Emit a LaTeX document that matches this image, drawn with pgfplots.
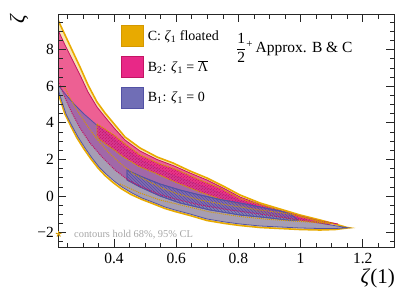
\documentclass[border=0pt]{standalone}
\usepackage{pgfplots}
\pgfplotsset{compat=1.18}
\usepackage{fontspec}
\setmainfont{Liberation Serif}
\usetikzlibrary{patterns}
\definecolor{goldc}{RGB}{232,170,0}
\definecolor{goldline}{RGB}{212,152,0}
\definecolor{pinkc}{RGB}{232,40,135}
\definecolor{pinkline}{RGB}{196,20,100}
\definecolor{purplec}{RGB}{112,110,182}
\definecolor{purpleline}{RGB}{82,82,165}
\begin{document}
\begin{tikzpicture}[x=1pt,y=1pt]
\path[use as bounding box] (-58,-51) rectangle (357,247);
\begin{axis}[
  scale only axis, width=336pt, height=233pt,
  at={(0,0)}, anchor=south west,
  xmin=0.2199, xmax=1.3003, ymin=-2.787, ymax=9.945,
  axis on top,
  xtick={0.4,0.6,0.8,1,1.2}, xticklabels={0.4,0.6,0.8,1,1.2},
  minor xtick={0.25,0.3,0.35,0.45,0.5,0.55,0.65,0.7,0.75,0.85,0.9,0.95,1.05,1.1,1.15,1.25},
  ytick={-2,0,2,4,6,8}, yticklabels={−2,0,2,4,6,8},
  minor ytick={-2.5,-1.5,-1,-0.5,0.5,1,1.5,2.5,3,3.5,4.5,5,5.5,6.5,7,7.5,8.5,9,9.5},
  tick align=inside, major tick length=8pt, minor tick length=4.5pt,
  tick style={black!85, line width=0.7pt},
  axis line style={black!85, line width=0.9pt},
  ticklabel style={font=\fontsize{15.5}{18}\selectfont},
  yticklabel style={inner sep=0pt, xshift=-4pt},
  xticklabel style={inner sep=0pt, yshift=-6pt},
  legend image code/.code={\draw[#1] (0pt,-10.5pt) rectangle (22pt,10.5pt);},
  legend style={at={(axis description cs:0.1875,0.953)}, anchor=north west,
    draw=none, fill=none, inner sep=0pt, outer sep=0pt, row sep=9pt, column sep=4pt,
    font=\fontsize{14}{16}\selectfont, nodes={inner sep=0pt}},
  legend cell align=left,
]
\addlegendimage{fill=goldc, draw=goldline, line width=0.8pt}
\addlegendentry{C: \textit{ζ}\textsubscript{1} floated}
\addlegendimage{fill=pinkc, draw=pinkline, line width=0.8pt}
\addlegendentry{B\textsubscript{2}: \textit{ζ}\textsubscript{1} = $\overline{\mbox{Λ}}$}
\addlegendimage{fill=purplec, draw=purpleline, line width=0.8pt}
\addlegendentry{B\textsubscript{1}: \textit{ζ}\textsubscript{1} = 0}

% C 95% CL
\addplot[fill=goldc, fill opacity=0.3, draw=goldc, line width=1.6pt, mark=none] coordinates {
(0.210,9.98) (0.220,9.617) (0.2424,8.798) (0.265,7.978) (0.2907,7.049) (0.3164,6.066) (0.3453,5.137) (0.3711,4.536) (0.4032,3.880) (0.4354,3.224) (0.4836,2.623) (0.5383,2.131) (0.5897,1.803) (0.6444,1.366) (0.6990,0.984) (0.7569,0.492) (0.8051,0.055) (0.8695,-0.383) (0.9338,-0.710) (0.9981,-1.038) (1.0624,-1.311) (1.1106,-1.530) (1.1492,-1.721) (1.1556,-1.738)
(1.1492,-1.749) (1.1106,-1.831) (1.0624,-1.858) (0.9981,-1.831) (0.9338,-1.776) (0.8695,-1.721) (0.8051,-1.612) (0.7569,-1.503) (0.6990,-1.339) (0.6444,-1.066) (0.5961,-0.847) (0.5640,-0.683) (0.5318,-0.464) (0.4900,-0.191) (0.4547,0.082) (0.4225,0.410) (0.3968,0.738) (0.3711,1.120) (0.3486,1.530) (0.3260,2.022) (0.3035,2.568) (0.2810,3.169) (0.2617,3.798) (0.2424,4.481) (0.2296,5.137) (0.2167,5.847) (0.210,6.339)
} -- cycle;

% B2 95% CL
\addplot[fill=pinkc, fill opacity=0.7, draw=none, mark=none] coordinates {
(0.207,9.508) (0.220,9.071) (0.2424,8.251) (0.265,7.486) (0.2907,6.612) (0.3164,5.683) (0.3453,4.863) (0.3711,4.317) (0.4032,3.661) (0.4354,3.060) (0.4836,2.459) (0.5383,1.995) (0.5897,1.667) (0.6444,1.257) (0.6990,0.874) (0.7569,0.383) (0.8051,-0.055) (0.8695,-0.464) (0.9338,-0.792) (0.9981,-1.093) (1.0624,-1.366) (1.0945,-1.448) (1.1203,-1.530)
(1.0945,-1.557) (1.0463,-1.448) (0.9659,-1.230) (0.8695,-0.984) (0.7730,-0.765) (0.6765,-0.492) (0.5961,-0.164) (0.5415,0.109) (0.4836,0.546) (0.4450,0.874) (0.4032,1.421) (0.3614,2.131) (0.3228,2.896) (0.2907,3.716) (0.2650,4.536) (0.2457,5.246) (0.2296,5.902) (0.2135,6.557)
} -- cycle;
\addplot[draw=pinkline, line width=0.8pt, mark=none] coordinates {
(0.207,9.508) (0.220,9.071) (0.2424,8.251) (0.265,7.486) (0.2907,6.612) (0.3164,5.683) (0.3453,4.863) (0.3711,4.317) (0.4032,3.661) (0.4354,3.060) (0.4836,2.459) (0.5383,1.995) (0.5897,1.667) (0.6444,1.257) (0.6990,0.874) (0.7569,0.383) (0.8051,-0.055) (0.8695,-0.464) (0.9338,-0.792) (0.9981,-1.093) (1.0624,-1.366) (1.0945,-1.448) (1.1203,-1.530)
};

% B1 95% CL
\addplot[fill=purplec, fill opacity=0.6, draw=purpleline, line width=0.8pt, mark=none] coordinates {
(0.2136,6.2) (0.220,6.066) (0.2457,5.519) (0.2746,4.973) (0.3035,4.481) (0.3293,4.098) (0.3550,3.716) (0.3871,3.224) (0.4354,2.568) (0.4836,1.967) (0.5479,1.421) (0.6122,0.984) (0.6990,0.437) (0.8051,-0.273) (0.9016,-0.765) (0.9981,-1.230) (1.0785,-1.530) (1.1267,-1.667) (1.1524,-1.738)
(1.1106,-1.776) (1.0624,-1.776) (0.9981,-1.749) (0.9338,-1.694) (0.8695,-1.639) (0.8051,-1.530) (0.7569,-1.421) (0.6990,-1.257) (0.6444,-0.984) (0.5961,-0.765) (0.5640,-0.601) (0.5318,-0.383) (0.4900,-0.109) (0.4579,0.164) (0.4257,0.492) (0.4,0.820) (0.3743,1.202) (0.3518,1.585) (0.3293,2.077) (0.3068,2.623) (0.2842,3.224) (0.2650,3.825) (0.2457,4.481) (0.2328,5.137) (0.220,5.847)
} -- cycle;

% B2 68% CL
\addplot[fill=pinkc, fill opacity=0.75, draw=goldline, densely dotted, line width=0.9pt, mark=none,
  postaction={fill opacity=0.7, pattern=north east lines, pattern color=pinkline}] coordinates {
(0.3453,3.934) (0.3711,3.661) (0.4032,3.279) (0.4354,2.842) (0.4836,2.240) (0.5479,1.749) (0.5961,1.475) (0.6765,0.874) (0.7408,0.437) (0.8051,-0.137) (0.9016,-0.628) (0.9981,-1.120) (1.0624,-1.40) (1.1042,-1.50)
(1.0463,-1.42) (0.9659,-1.257) (0.8695,-0.874) (0.8051,-0.519) (0.7408,-0.164) (0.6765,0.219) (0.5961,0.765) (0.5318,1.257) (0.4836,1.585) (0.4354,2.077) (0.3871,2.678) (0.3550,3.060) (0.3453,3.279)
} -- cycle;

% B1 68% CL
\addplot[fill=purplec, fill opacity=0.55, draw=purpleline, line width=0.8pt, mark=none,
  postaction={fill opacity=0.7, pattern=north west lines, pattern color=purpleline}] coordinates {
(0.4418,1.421) (0.4836,1.093) (0.5479,0.656) (0.6122,0.328) (0.6765,0.055) (0.7408,-0.191) (0.8051,-0.383) (0.8695,-0.601) (0.9338,-0.820) (0.9659,-0.984) (0.9916,-1.311)
(0.9659,-1.339) (0.9016,-1.202) (0.8051,-1.038) (0.7087,-0.765) (0.6122,-0.383) (0.5479,0) (0.4836,0.492) (0.4418,0.874)
} -- cycle;

% dotted contour lines
\addplot[draw=pinkline, densely dotted, line width=1pt, mark=none] coordinates {
(0.2135,6.557) (0.2296,5.902) (0.2457,5.246) (0.2650,4.536) (0.2907,3.716) (0.3228,2.896) (0.3614,2.131) (0.4032,1.421) (0.4450,0.874) (0.4836,0.546) (0.5415,0.109) (0.5961,-0.164) (0.6765,-0.492) (0.7730,-0.765) (0.8695,-0.984) (0.9659,-1.230) (1.0463,-1.448) (1.0945,-1.557)
};
\addplot[draw=goldline, densely dotted, line width=1pt, mark=none] coordinates {
(0.2392,6.011) (0.2585,5.355) (0.2810,4.699) (0.3100,3.934) (0.3421,3.169) (0.3807,2.404) (0.4225,1.749) (0.4643,1.202) (0.5029,0.874) (0.5543,0.437) (0.6058,0.109) (0.6765,-0.219) (0.7730,-0.519) (0.8695,-0.765) (0.9659,-0.984) (1.0463,-1.30) (1.1010,-1.50)
};
\addplot[draw=goldline, densely dotted, line width=1pt, mark=none] coordinates {
(0.4193,0.656) (0.4836,0.164) (0.5479,-0.219) (0.6283,-0.546) (0.7087,-0.874) (0.8051,-1.120) (0.9016,-1.284) (0.9981,-1.393) (1.1010,-1.50)
};

% best fit marker
\addplot[only marks, mark=star, mark size=3pt, goldline, line width=0.9pt] coordinates {(0.222,-2.08)};

\node[anchor=base west, font=\fontsize{10.4}{12}\selectfont, text=black!35, inner sep=0pt] at (axis cs:0.2714,-2.295) {contours hold 68\%, 95\% CL};
\node[anchor=base west, font=\fontsize{15.5}{18}\selectfont, inner sep=0pt] at (axis description cs:0.530,0.833) {$\displaystyle\frac{\mbox{1}}{\mbox{2}}$\textsuperscript{+}\,Approx. B \& C};
\end{axis}
\node[anchor=east, font=\fontsize{21}{24}\selectfont, inner sep=0pt] at (337,-31) {\textit{ζ}(1)};
\node[rotate=90, font=\fontsize{21}{24}\selectfont, inner sep=0pt] at (-39,228) {\textit{ζ}};
\end{tikzpicture}
\end{document}
